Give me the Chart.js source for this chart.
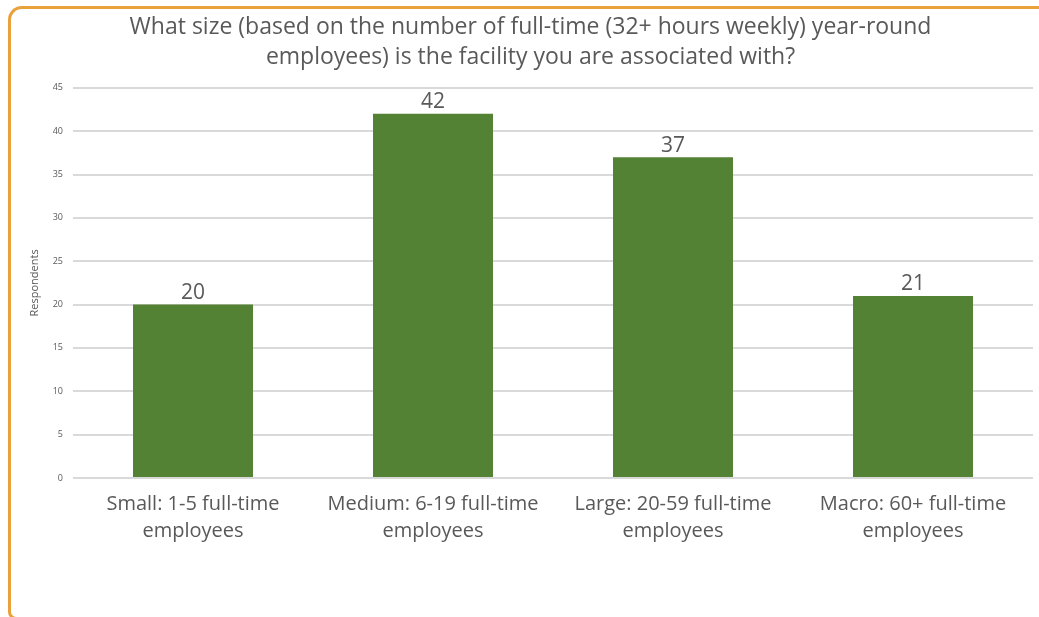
<!DOCTYPE html>
<html>
<head>
<meta charset="utf-8">
<script src="https://cdn.jsdelivr.net/npm/chart.js@4/dist/chart.umd.min.js"></script>
<style>
  body { margin: 0; background: #fff; }
  #wrap { position: relative; width: 1039px; height: 617px; overflow: hidden; }
  #frame {
    position: absolute; left: 8px; top: 6px; width: 1100px; height: 614px;
    border-left: 3px solid #e9a23b; border-top: 3px solid #e9a23b;
    border-bottom: 3px solid #e9a23b;
    border-radius: 14px 0 0 8px; box-sizing: border-box; pointer-events: none;
  }
</style>
</head>
<body>
<div id="wrap">
  <canvas id="grafico" width="1039" height="617"></canvas>
  <div id="frame"></div>
</div>
<script>
var categorias = [
  ['Small: 1-5 full-time', 'employees'],
  ['Medium: 6-19 full-time', 'employees'],
  ['Large: 20-59 full-time', 'employees'],
  ['Macro: 60+ full-time', 'employees']
];
var respondentes = [20, 42, 37, 21];
var titulo = [
  'What size (based on the number of full-time (32+ hours weekly) year-round',
  'employees) is the facility you are associated with?'
];

var cinza = '#595959';
var fonte = "'Open Sans', sans-serif";

// rótulos de valor em cima das barras
var rotulos = {
  id: 'rotulos',
  afterDatasetsDraw: function(chart) {
    var ctx = chart.ctx;
    var meta = chart.getDatasetMeta(0);
    ctx.save();
    ctx.font = '21px ' + fonte;
    ctx.fillStyle = cinza;
    ctx.textAlign = 'center';
    ctx.textBaseline = 'bottom';
    meta.data.forEach(function(bar, i) {
      ctx.fillText(respondentes[i], bar.x, bar.y - 1);
    });
    ctx.restore();
  }
};

var ctx = document.getElementById('grafico').getContext('2d');
var chart = new Chart(ctx, {
  type: 'bar',
  data: {
    labels: categorias,
    datasets: [{
      label: 'Respondents',
      data: respondentes,
      backgroundColor: '#548235',
      barPercentage: 0.5,
      categoryPercentage: 1
    }]
  },
  options: {
    responsive: false,
    animation: false,
    layout: { padding: { left: 28, right: 6, top: 0, bottom: 0 } },
    plugins: {
      legend: { display: false },
      tooltip: { enabled: false },
      title: {
        display: true,
        text: titulo,
        color: cinza,
        font: { family: fonte, size: 23, weight: 'normal', lineHeight: 1.3 },
        padding: { top: 13, bottom: 15 }
      }
    },
    scales: {
      x: {
        grid: { display: false },
        border: { display: false },
        ticks: {
          color: cinza,
          font: { family: fonte, size: 20, lineHeight: 1.35 },
          padding: 5,
          maxRotation: 0
        },
        afterFit: function(s) { s.height = 139; }
      },
      y: {
        min: 0,
        max: 45,
        ticks: {
          stepSize: 5,
          color: cinza,
          font: { family: fonte, size: 9 },
          padding: 10
        },
        grid: { color: '#d9d9d9', lineWidth: 2, drawTicks: false },
        border: { display: false },
        title: {
          display: true,
          text: 'Respondents',
          color: cinza,
          font: { family: fonte, size: 11 },
          padding: 0
        },
        afterFit: function(s) { s.width = 45; }
      }
    }
  },
  plugins: [rotulos]
});
</script>
</body>
</html>
